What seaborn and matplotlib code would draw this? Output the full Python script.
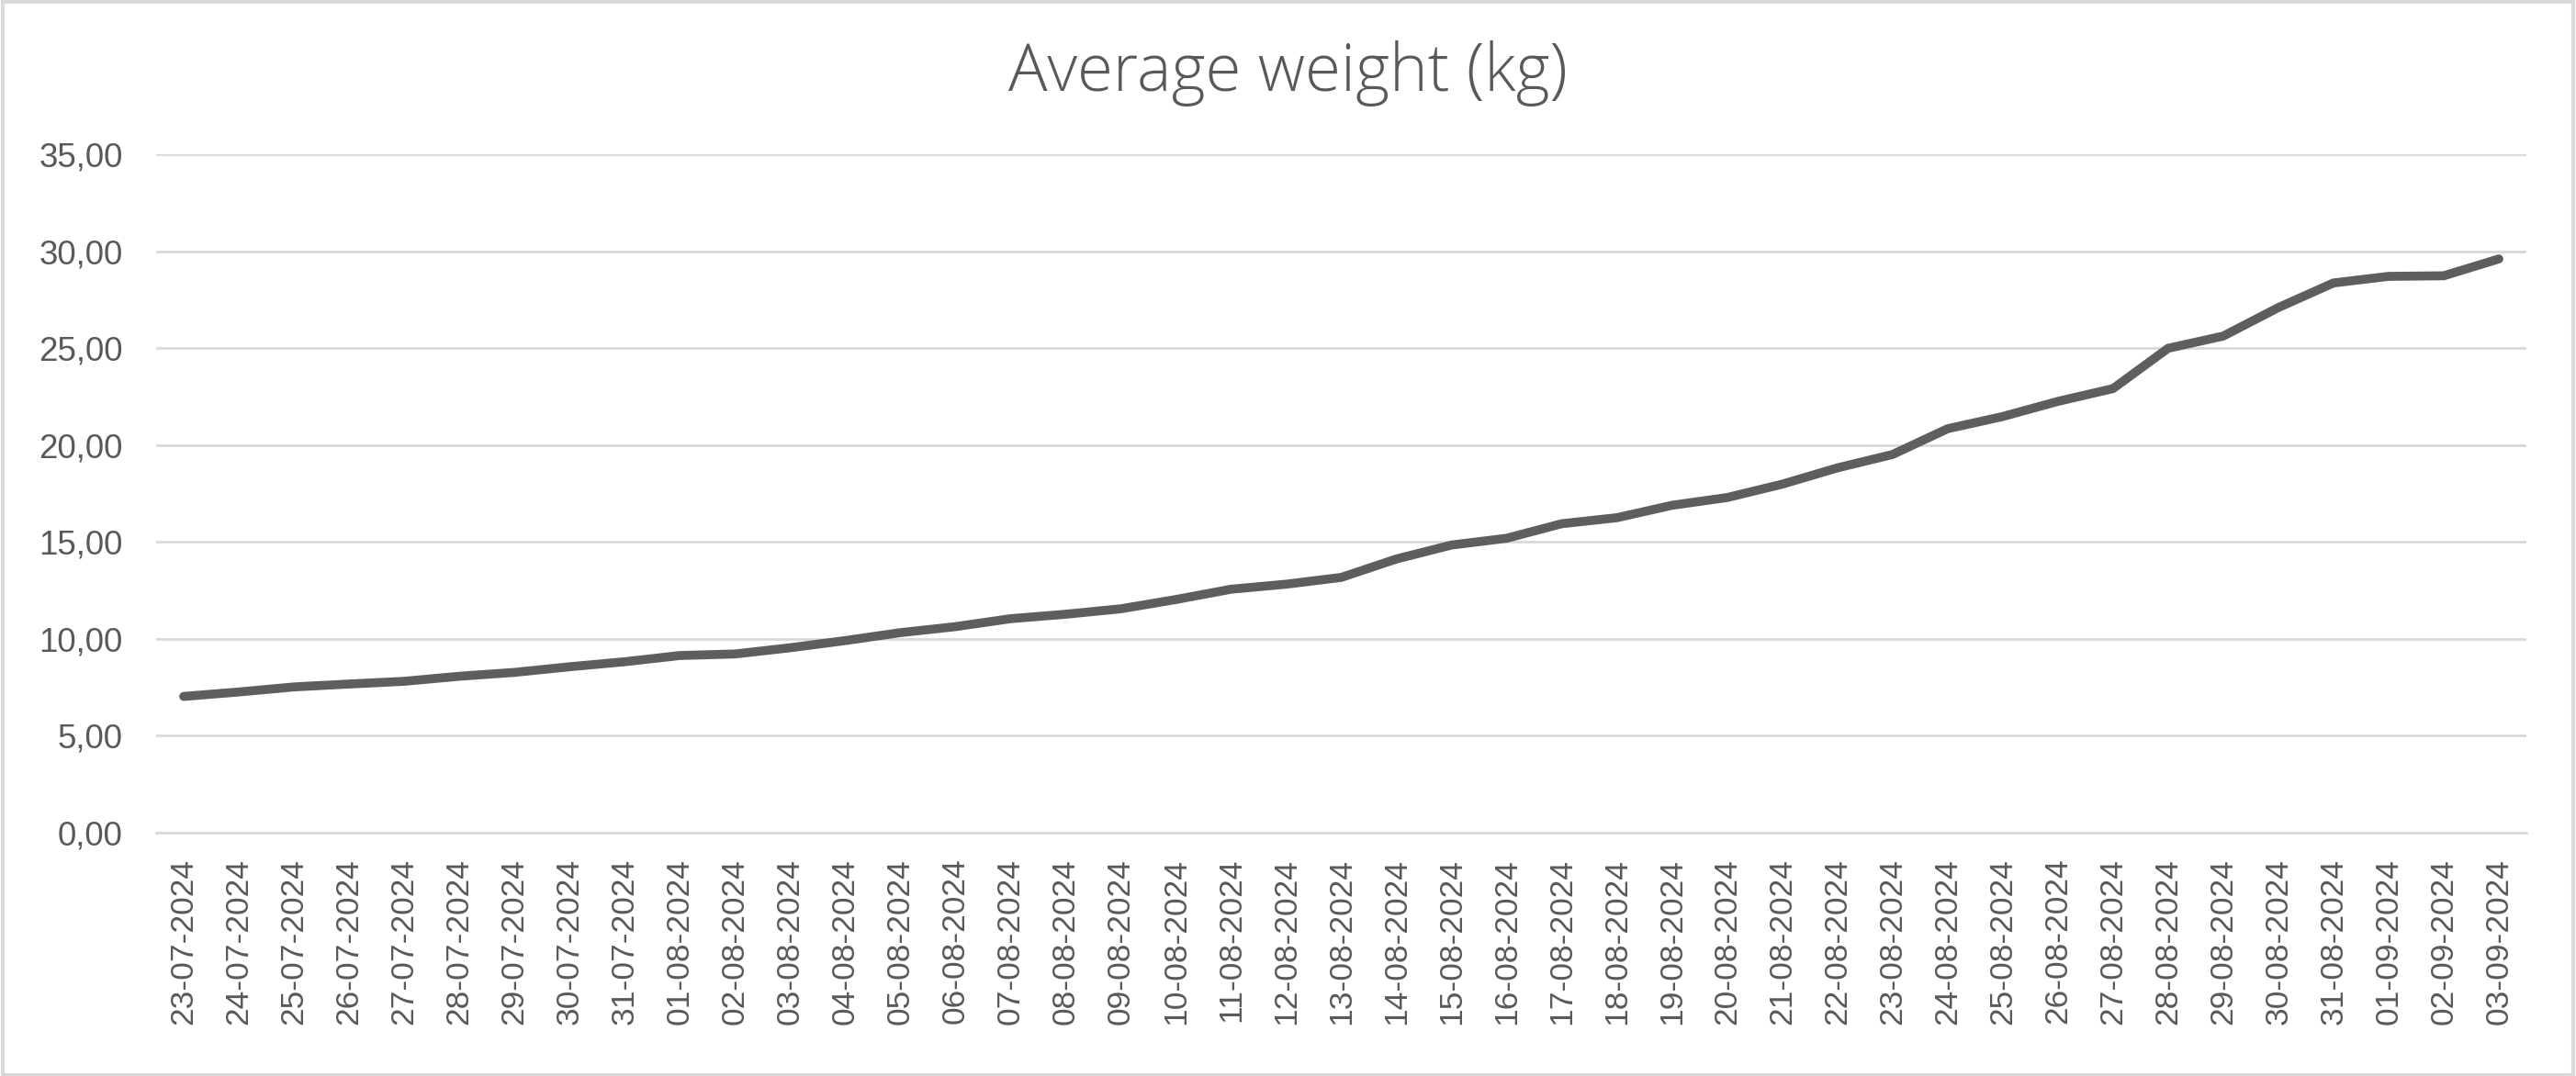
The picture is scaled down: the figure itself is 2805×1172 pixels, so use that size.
import seaborn as sns
import matplotlib.pyplot as plt
import matplotlib.patches as mpatches
import pandas as pd
from matplotlib.ticker import FuncFormatter, FixedLocator

# DATA
DATES = [
    '23-07-2024', '24-07-2024', '25-07-2024', '26-07-2024', '27-07-2024',
    '28-07-2024', '29-07-2024', '30-07-2024', '31-07-2024', '01-08-2024',
    '02-08-2024', '03-08-2024', '04-08-2024', '05-08-2024', '06-08-2024',
    '07-08-2024', '08-08-2024', '09-08-2024', '10-08-2024', '11-08-2024',
    '12-08-2024', '13-08-2024', '14-08-2024', '15-08-2024', '16-08-2024',
    '17-08-2024', '18-08-2024', '19-08-2024', '20-08-2024', '21-08-2024',
    '22-08-2024', '23-08-2024', '24-08-2024', '25-08-2024', '26-08-2024',
    '27-08-2024', '28-08-2024', '29-08-2024', '30-08-2024', '31-08-2024',
    '01-09-2024', '02-09-2024', '03-09-2024'
]
WEIGHT = [
    7.03, 7.26, 7.52, 7.67, 7.81, 8.07, 8.27, 8.56, 8.82, 9.14,
    9.22, 9.54, 9.91, 10.32, 10.63, 11.04, 11.27, 11.55, 12.03, 12.56,
    12.82, 13.17, 14.12, 14.84, 15.19, 15.94, 16.25, 16.89, 17.29, 17.98,
    18.82, 19.51, 20.84, 21.47, 22.25, 22.91, 24.99, 25.62, 27.09, 28.36,
    28.70, 28.73, 29.60
]
Y_TICKS = [0, 5, 10, 15, 20, 25, 30, 35]

TEXT = '#595959'
GRID = '#d9d9d9'
LINE = '#5e5e5e'

sns.set_style('white')
plt.rcParams['font.family'] = ['Liberation Sans', 'DejaVu Sans']

df = pd.DataFrame({'date': DATES, 'weight': WEIGHT})
df['pos'] = range(len(df))

fig = plt.figure(figsize=(28.05, 11.72), dpi=100)
ax = fig.add_axes([170 / 2805, 1 - 907 / 1172, (2751 - 170) / 2805, (907 - 168) / 1172])

sns.lineplot(data=df, x='pos', y='weight', ax=ax, color=LINE,
             linewidth=7, solid_capstyle='round', solid_joinstyle='round',
             sort=False)

ax.set_xlim(-0.5, len(DATES) - 0.5)
ax.set_ylim(0, 35)
ax.set_xlabel('')
ax.set_ylabel('')

ax.set_xticks(range(len(DATES)))
ax.set_xticklabels(DATES, rotation=90, fontsize=25.5, color=TEXT)
ax.xaxis.set_minor_locator(FixedLocator([i - 0.5 for i in range(len(DATES) + 1)]))
ax.tick_params(axis='x', which='major', length=0, pad=20)
ax.tick_params(axis='x', which='minor', length=16, width=2, color=GRID, direction='out')

ax.set_yticks(Y_TICKS)
ax.yaxis.set_major_formatter(FuncFormatter(lambda v, p: f'{v:.2f}'.replace('.', ',')))
ax.tick_params(axis='y', length=0, pad=26, labelsize=26.5, labelcolor=TEXT)

ax.grid(axis='y', color=GRID, linewidth=2)
ax.set_axisbelow(True)
for side in ['top', 'right', 'left']:
    ax.spines[side].set_visible(False)
ax.spines['bottom'].set_color(GRID)
ax.spines['bottom'].set_linewidth(2)

fig.text(0.5, 1 - 80 / 1172, 'Average weight (kg)', ha='center', va='center',
         fontsize=51, color=TEXT, family=['Open Sans', 'DejaVu Sans'], fontweight='light')

fig.patches.append(mpatches.Rectangle((0.001, 0.001), 0.998, 0.997, transform=fig.transFigure,
                                      fill=False, edgecolor=GRID, linewidth=3))

fig.savefig('out.png', dpi=100)
